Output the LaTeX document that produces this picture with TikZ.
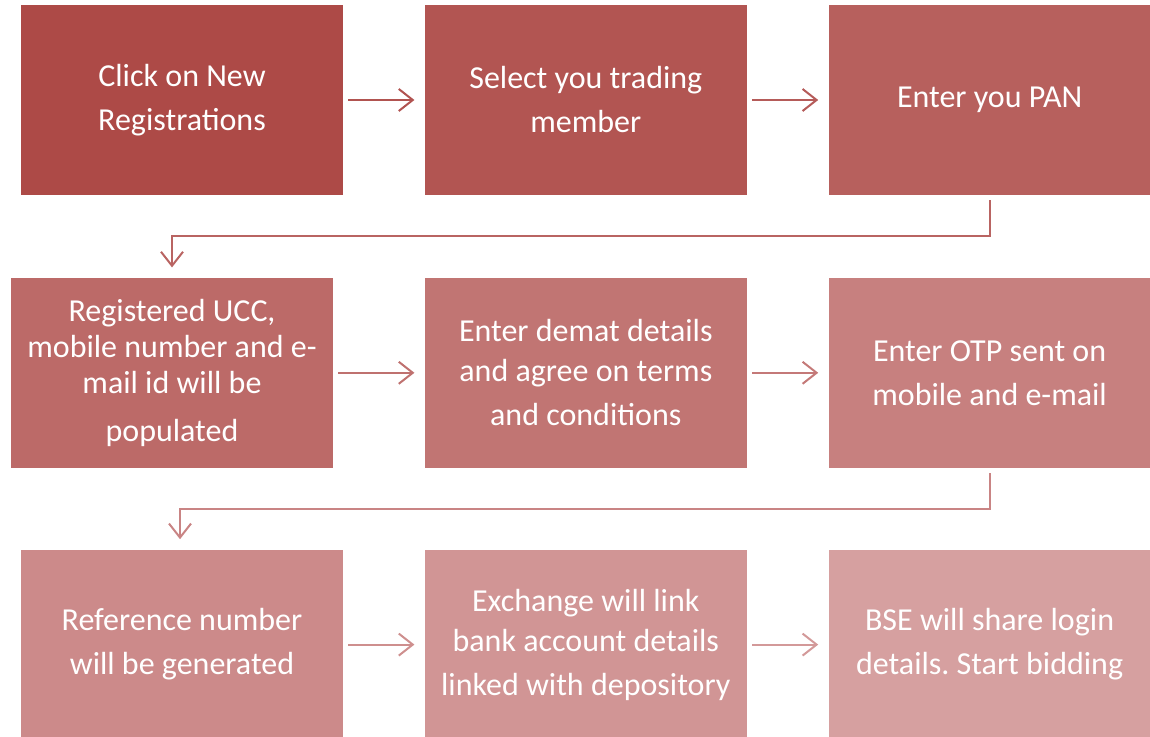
\documentclass[tikz,border=0pt]{standalone}
\usepackage{fontspec}
\setmainfont{Carlito}
\usetikzlibrary{arrows.meta, positioning}
\definecolor{darkstep}{HTML}{AD4A47}
\definecolor{lightstep}{HTML}{D6A0A0}
\tikzset{
    flowbox/.style={rectangle, fill=darkstep!#1!lightstep, text=white, align=center,
        minimum width=161pt, minimum height=95pt, inner sep=1pt,
        font=\fontsize{16}{22}\selectfont},
    arrow/.style={line width=1pt, draw=darkstep!#1!lightstep,
        -{Straight Barb[length=7pt,width=11pt]}, shorten <=2.5pt, shorten >=5pt}
}

\begin{document}
\begin{tikzpicture}[node distance=41pt and 40.5pt]
    \useasboundingbox (0,0) rectangle (575pt,-368.5pt);

    % Steps
    \node (click) [flowbox=100] at (91pt,-50pt) {Click on New\\Registrations};
    \node (member) [flowbox=87.5, right=of click] {Select you trading\\member};
    \node (pan) [flowbox=75, right=of member] {Enter you PAN};
    \node (ucc) [flowbox=62.5, below=of click, xshift=-5pt] {Registered UCC,\\[-4pt]mobile number and e-\\[-4pt]mail id will be\\[2pt]populated};
    \node (demat) [flowbox=50, below=of member] {Enter demat details\\[-2pt]and agree on terms\\and conditions};
    \node (otp) [flowbox=37.5, below=of pan] {Enter OTP sent on\\mobile and e-mail};
    \node (refno) [flowbox=25, below=40.5pt of ucc, xshift=5pt] {Reference number\\will be generated};
    \node (bank) [flowbox=12.5, below=40.5pt of demat] {Exchange will link\\[-2pt]bank account details\\linked with depository};
    \node (login) [flowbox=0, below=40.5pt of otp] {BSE will share login\\details.\ Start bidding};

    % Arrows
    \draw [arrow=90] (click) -- (member);
    \draw [arrow=80] (member) -- (pan);
    \draw [arrow=70, shorten <=0pt] ([yshift=-2.5pt]pan.south) -- ++(0,-18pt) -| (ucc.north);
    \draw [arrow=55] (ucc) -- (demat);
    \draw [arrow=45] (demat) -- (otp);
    \draw [arrow=32, shorten <=0pt] ([yshift=-2.5pt]otp.south) -- ++(0,-18pt) -| ([xshift=-1pt]refno.north);
    \draw [arrow=20] (refno) -- (bank);
    \draw [arrow=8] (bank) -- (login);

\end{tikzpicture}
\end{document}
